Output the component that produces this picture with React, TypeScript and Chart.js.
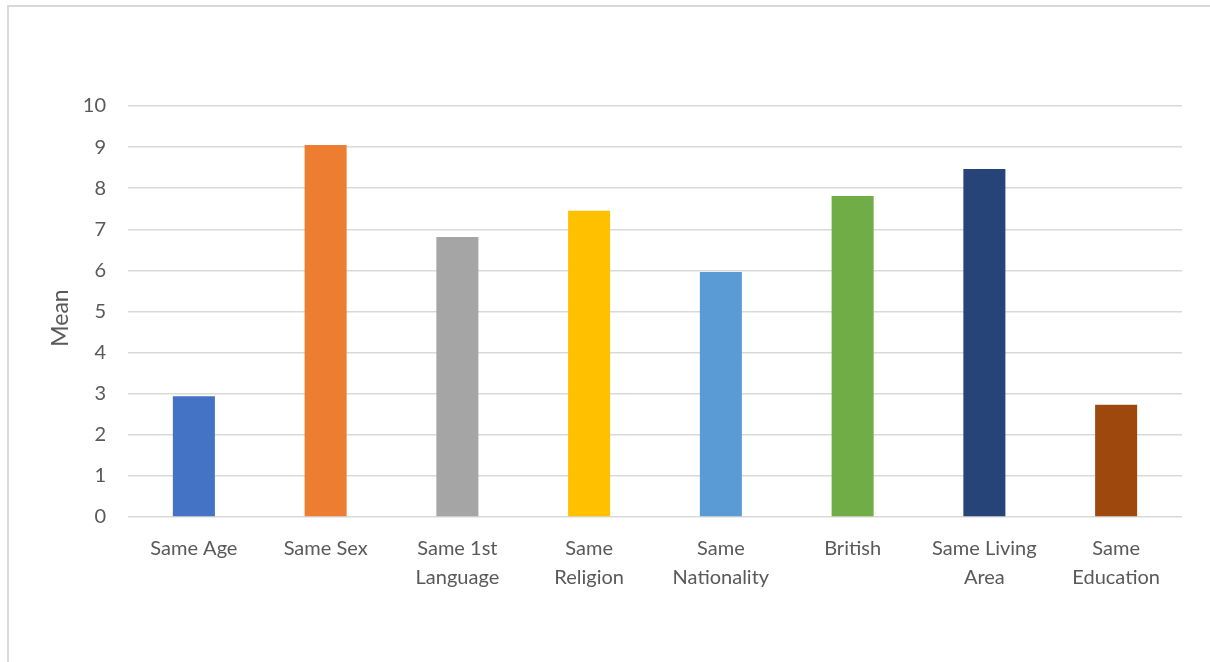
import React, { useEffect, useRef } from "react";
import { Chart, registerables } from "chart.js";

Chart.register(...registerables);

const categories: (string | string[])[] = [
  "Same Age",
  "Same Sex",
  ["Same 1st", "Language"],
  ["Same", "Religion"],
  ["Same", "Nationality"],
  "British",
  ["Same Living", "Area"],
  ["Same", "Education"],
];
const meanValues = [2.94, 9.05, 6.81, 7.45, 5.96, 7.81, 8.47, 2.73];
const barColors = ["#4472C4", "#ED7D31", "#A5A5A5", "#FFC000", "#5B9BD5", "#70AD47", "#264478", "#9E480E"];
const yTicks = [0, 1, 2, 3, 4, 5, 6, 7, 8, 9, 10];
const yTitle = "Mean";

const FONT = "Lato, 'Open Sans', sans-serif";

const yTitlePlugin = {
  id: "yTitlePlugin",
  afterDraw(chart: any) {
    const ctx = chart.ctx;
    ctx.save();
    ctx.translate(61, 318);
    ctx.rotate(-Math.PI / 2);
    ctx.fillStyle = "#595959";
    ctx.font = "23px " + FONT;
    ctx.textAlign = "center";
    ctx.textBaseline = "middle";
    ctx.fillText(yTitle, 0, 0);
    ctx.restore();
  },
};

export default function App() {
  const ref = useRef<HTMLCanvasElement | null>(null);
  useEffect(() => {
    if (!ref.current) return;
    const chart = new Chart(ref.current, {
      type: "bar",
      data: {
        labels: categories,
        datasets: [
          {
            data: meanValues,
            backgroundColor: barColors,
            borderWidth: 0,
            barPercentage: 0.319,
            categoryPercentage: 1,
          },
        ],
      },
      plugins: [yTitlePlugin],
      options: {
        animation: false,
        responsive: false,
        maintainAspectRatio: false,
        layout: { padding: { left: 0, right: 28, top: 106, bottom: 0 } },
        plugins: { legend: { display: false }, tooltip: { enabled: false } },
        scales: {
          x: {
            grid: { display: false, drawTicks: false },
            border: { display: false },
            ticks: {
              color: "#595959",
              font: { family: FONT, size: 20, lineHeight: 1.45 },
              padding: 17,
              maxRotation: 0,
              autoSkip: false,
            },
            afterFit: (s: any) => {
              s.height = 145;
            },
          },
          y: {
            min: 0,
            max: 10,
            afterBuildTicks: (s: any) => {
              s.ticks = yTicks.map((v) => ({ value: v }));
            },
            grid: { color: "#d9d9d9", lineWidth: 1.5, drawTicks: false },
            border: { display: false },
            ticks: {
              color: "#595959",
              font: { family: FONT, size: 20 },
              padding: 22,
            },
            afterFit: (s: any) => {
              s.width = 128;
            },
          },
        },
      },
    });
    return () => chart.destroy();
  }, []);
  return (
    <div style={{ position: "absolute", left: 0, top: 0, width: 1210, height: 662, overflow: "hidden", background: "#fff" }}>
      <div
        style={{
          position: "absolute",
          left: 7,
          top: 5,
          width: 1300,
          height: 800,
          borderTop: "2px solid #d9d9d9",
          borderLeft: "2px solid #d9d9d9",
        }}
      />
      <canvas ref={ref} width={1210} height={662} style={{ position: "absolute", left: 0, top: 0 }} />
    </div>
  );
}
